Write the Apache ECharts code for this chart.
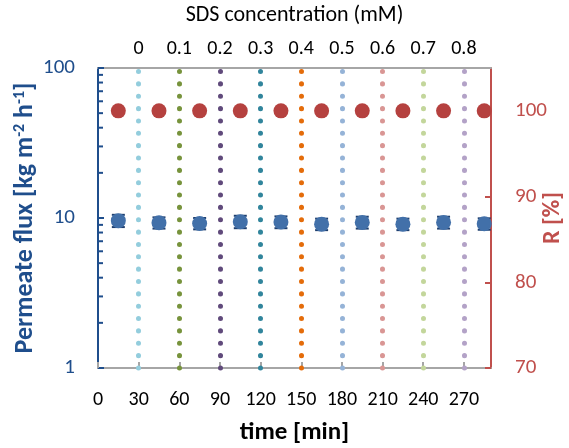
<!DOCTYPE html>
<html>
<head>
<meta charset="utf-8">
<script src="https://cdn.jsdelivr.net/npm/echarts@6/dist/echarts.min.js"></script>
<style>
html,body{margin:0;padding:0;background:#fff;}
#c{width:569px;height:448px;}
</style>
</head>
<body>
<div id="c"></div>
<script>
// ---- data ----
const times = [15, 45, 75, 105, 135, 165, 195, 225, 255, 285];
const flux = [9.6, 9.3, 9.2, 9.45, 9.4, 9.1, 9.35, 9.1, 9.35, 9.15];
const fluxErr = [0.9, 0.8, 0.8, 0.9, 0.85, 0.8, 0.85, 0.8, 0.85, 0.8];
const rejection = [100, 100, 100, 100, 100, 100, 100, 100, 100, 100];
const timeTicks = [0, 30, 60, 90, 120, 150, 180, 210, 240, 270];
const sdsTicks = [30, 60, 90, 120, 150, 180, 210, 240, 270];
const sdsLabels = ['0', '0.1', '0.2', '0.3', '0.4', '0.5', '0.6', '0.7', '0.8'];
const rTicks = [70, 80, 90, 100];
const dividerColors = ['#93CDDD', '#77933C', '#604A7B', '#31859C', '#E46C0A', '#95B3D7', '#D99694', '#C3D69B', '#B3A2C7'];
const fluxMinorTicks = [2, 3, 4, 5, 6, 7, 8, 9, 20, 30, 40, 50, 60, 70, 80, 90];

const FONT = 'Carlito, Lato, "Open Sans", sans-serif';
const BLUE_AX = '#1F4E8C';
const RED_AX = '#C0504D';
const GRAY = '#A6A6A6';

const chart = echarts.init(document.getElementById('c'), null, {renderer: 'canvas'});
const option = {
  animation: false,
  backgroundColor: '#fff',
  textStyle: {fontFamily: FONT},
  grid: {left: 98, right: 78, top: 68, bottom: 80, containLabel: false, outerBoundsMode: 'none'},
  xAxis: [
    {
      type: 'value', position: 'bottom', min: 0, max: 290, scale: false,
      name: 'time [min]', nameLocation: 'middle', nameGap: 52, nameMoveOverlap: false,
      nameTextStyle: {fontFamily: FONT, fontSize: 25, fontWeight: 'bold', color: '#000'},
      axisLine: {show: true, onZero: false, lineStyle: {color: GRAY, width: 2}},
      axisTick: {show: true, inside: true, length: 6, customValues: timeTicks, lineStyle: {color: GRAY, width: 2}},
      axisLabel: {show: true, margin: 22, fontFamily: FONT, fontSize: 20, color: '#000', customValues: timeTicks},
      splitLine: {show: false}
    },
    {
      type: 'value', position: 'top', min: 0, max: 290,
      name: 'SDS concentration (mM)', nameLocation: 'middle', nameGap: 42, nameMoveOverlap: false,
      nameTextStyle: {fontFamily: FONT, fontSize: 22, color: '#000'},
      axisLine: {show: true, onZero: false, lineStyle: {color: GRAY, width: 2}},
      axisTick: {show: false},
      axisLabel: {
        show: true, margin: 9, fontFamily: FONT, fontSize: 20, color: '#000',
        customValues: sdsTicks,
        formatter: function (v) {
          const i = sdsTicks.indexOf(v);
          return i >= 0 ? sdsLabels[i] : '';
        }
      },
      splitLine: {show: false}
    }
  ],
  yAxis: [
    {
      type: 'log', logBase: 10, min: 1, max: 100, position: 'left',
      name: '{a|Permeate flux [kg m}{s|-2}{a| h}{s|-1}{a|]}',
      nameLocation: 'middle', nameGap: 60, nameRotate: 90, nameMoveOverlap: false,
      nameTextStyle: {
        rich: {
          a: {fontFamily: FONT, fontSize: 26, fontWeight: 'bold', color: BLUE_AX},
          s: {fontFamily: FONT, fontSize: 16, fontWeight: 'bold', color: BLUE_AX, verticalAlign: 'top', padding: [0, 0, 10, 0]}
        }
      },
      axisLine: {show: true, onZero: false, lineStyle: {color: BLUE_AX, width: 2}},
      axisTick: {show: true, inside: true, length: 6, lineStyle: {color: BLUE_AX, width: 2}},
      axisLabel: {show: true, margin: 23, fontFamily: FONT, fontSize: 21, color: BLUE_AX},
      splitLine: {show: false},
      minorTick: {show: false}
    },
    {
      type: 'value', min: 70, max: 105, position: 'right',
      name: 'R [%]', nameLocation: 'middle', nameGap: 50, nameRotate: 90, nameMoveOverlap: false,
      nameTextStyle: {fontFamily: FONT, fontSize: 24, fontWeight: 'bold', color: RED_AX},
      axisLine: {show: true, onZero: false, lineStyle: {color: RED_AX, width: 2}},
      axisTick: {show: true, inside: true, length: 6, customValues: rTicks, lineStyle: {color: RED_AX, width: 2}},
      axisLabel: {show: true, margin: 24, fontFamily: FONT, fontSize: 21, color: RED_AX, customValues: rTicks},
      splitLine: {show: false}
    }
  ],
  series: [
    {
      name: 'dividers', type: 'line', xAxisIndex: 0, yAxisIndex: 0, data: [], silent: true, z: 1,
      markLine: {
        silent: true, symbol: ['none', 'none'], label: {show: false},
        lineStyle: {width: 5, type: [0.1, 12.25], cap: 'round'},
        emphasis: {disabled: true},
        data: sdsTicks.map((t, i) => ({xAxis: t, lineStyle: {color: dividerColors[i], width: 5, type: [0.1, 12.25], cap: 'round'}}))
      }
    },
    {
      name: 'minorTicks', type: 'custom', xAxisIndex: 0, yAxisIndex: 0, silent: true, clip: false, z: 3,
      data: fluxMinorTicks.map(v => [0, v]),
      renderItem: function (params, api) {
        const p = api.coord([0, api.value(1)]);
        return {type: 'line', shape: {x1: p[0], y1: p[1], x2: p[0] + 5, y2: p[1]}, style: {stroke: BLUE_AX, lineWidth: 2}};
      }
    },
    {
      name: 'fluxErr', type: 'custom', xAxisIndex: 0, yAxisIndex: 0, silent: true, z: 4,
      data: times.map((t, i) => [t, flux[i] - fluxErr[i], flux[i] + fluxErr[i]]),
      renderItem: function (params, api) {
        const lo = api.coord([api.value(0), api.value(1)]);
        const hi = api.coord([api.value(0), api.value(2)]);
        const w = 6.5;
        const st = {stroke: '#1F3F6E', lineWidth: 2};
        return {type: 'group', children: [
          {type: 'line', shape: {x1: lo[0], y1: lo[1], x2: hi[0], y2: hi[1]}, style: st},
          {type: 'line', shape: {x1: lo[0] - w, y1: lo[1], x2: lo[0] + w, y2: lo[1]}, style: st},
          {type: 'line', shape: {x1: hi[0] - w, y1: hi[1], x2: hi[0] + w, y2: hi[1]}, style: st}
        ]};
      }
    },
    {
      name: 'flux', type: 'scatter', xAxisIndex: 0, yAxisIndex: 0, z: 5,
      symbol: 'circle', symbolSize: 15,
      itemStyle: {color: '#4270A9', opacity: 1},
      data: times.map((t, i) => [t, flux[i]])
    },
    {
      name: 'R', type: 'scatter', xAxisIndex: 0, yAxisIndex: 1, z: 5,
      symbol: 'circle', symbolSize: 15,
      itemStyle: {color: '#B5413F', opacity: 1},
      data: times.map((t, i) => [t, rejection[i]])
    }
  ]
};
chart.setOption(option);
</script>
</body>
</html>
